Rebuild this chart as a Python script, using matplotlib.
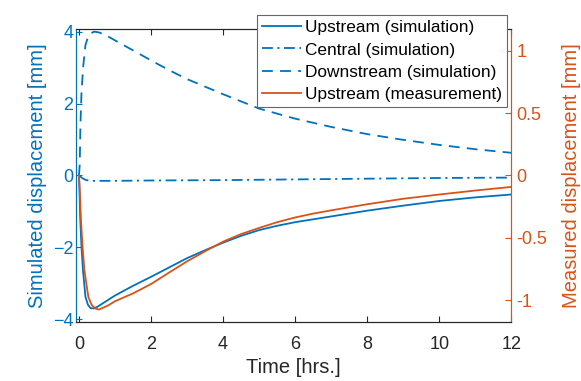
import matplotlib
matplotlib.use("Agg")
import matplotlib.pyplot as plt

# MATLAB default colours
BLUE = "#0072BD"
ORANGE = "#D95319"
DARK = "#262626"

# simulated displacement [mm] (left axis)
t_up = [0, 0.01, 0.036, 0.07, 0.11, 0.18, 0.25, 0.32, 0.4, 0.5, 0.75, 1, 1.5,
        2, 2.5, 3, 3.5, 4, 4.5, 5, 5.5, 6, 6.5, 7, 8, 9, 10, 11, 12]
up_sim = [0, -0.3, -1.25, -2.0, -2.64, -3.38, -3.6, -3.69, -3.70, -3.66, -3.50,
          -3.34, -3.07, -2.82, -2.56, -2.30, -2.08, -1.87, -1.68, -1.52, -1.40,
          -1.30, -1.22, -1.14, -0.98, -0.84, -0.71, -0.61, -0.53]

t_cen = [0, 0.1, 0.2, 0.35, 0.6, 1, 2, 4, 6, 8, 10, 12]
cen_sim = [0, -0.08, -0.13, -0.15, -0.15, -0.15, -0.14, -0.13, -0.11, -0.09,
           -0.07, -0.06]

t_down = [0, 0.02, 0.04, 0.07, 0.12, 0.18, 0.25, 0.32, 0.42, 0.55, 0.75, 1.1,
          1.5, 2, 2.5, 3, 4, 5, 6, 7, 8, 9, 10, 11, 12]
down_sim = [0, 0.3, 1.4, 2.33, 3.07, 3.63, 3.85, 3.95, 4.0, 3.98, 3.90, 3.70,
            3.48, 3.20, 2.93, 2.68, 2.26, 1.86, 1.58, 1.35, 1.15, 0.99, 0.85,
            0.73, 0.63]

# measured displacement [mm] (right axis)
t_meas = [0, 0.02, 0.055, 0.1, 0.15, 0.26, 0.35, 0.45, 0.55, 0.8, 1, 1.5, 2,
          2.5, 3, 3.5, 4, 4.5, 5, 5.5, 6, 6.5, 7, 8, 9, 10, 11, 12]
up_meas = [0, -0.115, -0.360, -0.577, -0.761, -0.975, -1.038, -1.067, -1.076,
           -1.044, -1.009, -0.946, -0.871, -0.779, -0.689, -0.608, -0.531,
           -0.470, -0.421, -0.375, -0.337, -0.306, -0.280, -0.231, -0.187,
           -0.153, -0.121, -0.092]

left_ticks = [-4, -2, 0, 2, 4]
right_ticks = [-1, -0.5, 0, 0.5, 1]
right_labels = ["-1", "-0.5", "0", "0.5", "1"]
x_ticks = [0, 2, 4, 6, 8, 10, 12]

plt.rcParams["font.family"] = ["Liberation Sans", "DejaVu Sans"]
plt.rcParams["font.size"] = 13

fig = plt.figure(figsize=(5.81, 3.81), dpi=100)
ax = fig.add_axes([0.131, 0.155, 0.749, 0.769])
ax2 = ax.twinx()

lw = 1.3
l1, = ax.plot(t_up, up_sim, color=BLUE, lw=lw, label="Upstream (simulation)")
l2, = ax.plot(t_cen, cen_sim, color=BLUE, lw=lw, dashes=[6, 2.5, 1.2, 2.5],
              label="Central (simulation)")
l3, = ax.plot(t_down, down_sim, color=BLUE, lw=lw, dashes=[6, 4],
              label="Downstream (simulation)")
l4, = ax2.plot(t_meas, up_meas, color=ORANGE, lw=lw,
               label="Upstream (measurement)")

ax.set_xlim(-0.08, 12)
ax.set_ylim(-4.075, 4.075)
ax2.set_ylim(-1.175, 1.175)
ax.set_xticks(x_ticks)
ax.set_yticks(left_ticks)
ax2.set_yticks(right_ticks)
ax2.set_yticklabels(right_labels)

ax.tick_params(axis="x", direction="in", top=True, length=4, colors=DARK,
               labelsize=13, pad=10)
ax.tick_params(axis="y", direction="in", length=4, colors=BLUE, labelsize=13,
               pad=2)
ax2.tick_params(axis="y", direction="in", length=4, colors=ORANGE,
                labelsize=13)

for a in (ax, ax2):
    a.spines["top"].set_color(DARK)
    a.spines["bottom"].set_color(DARK)
    a.spines["left"].set_color(BLUE)
    a.spines["right"].set_color(ORANGE)
    for s in a.spines.values():
        s.set_linewidth(0.8)

ax.set_xlabel("Time [hrs.]", fontsize=14.5, color=DARK, labelpad=4)
ax.set_ylabel("Simulated displacement [mm]", fontsize=14.5, color=BLUE,
              labelpad=4)
ax2.set_ylabel("Measured displacement [mm]", fontsize=14.5, color=ORANGE,
               labelpad=11)

leg = ax2.legend(handles=[l1, l2, l3, l4], loc="upper right",
                 bbox_to_anchor=(507 / 581, 1 - 15 / 381),
                 bbox_transform=fig.transFigure, fontsize=12.4, fancybox=False,
                 framealpha=1, edgecolor="#666666", borderpad=0.3,
                 labelspacing=0.42, handlelength=2.3, handletextpad=0.2,
                 borderaxespad=0)
leg.get_frame().set_linewidth(0.8)
leg.set_zorder(10)

fig.savefig("out.png", dpi=100)
